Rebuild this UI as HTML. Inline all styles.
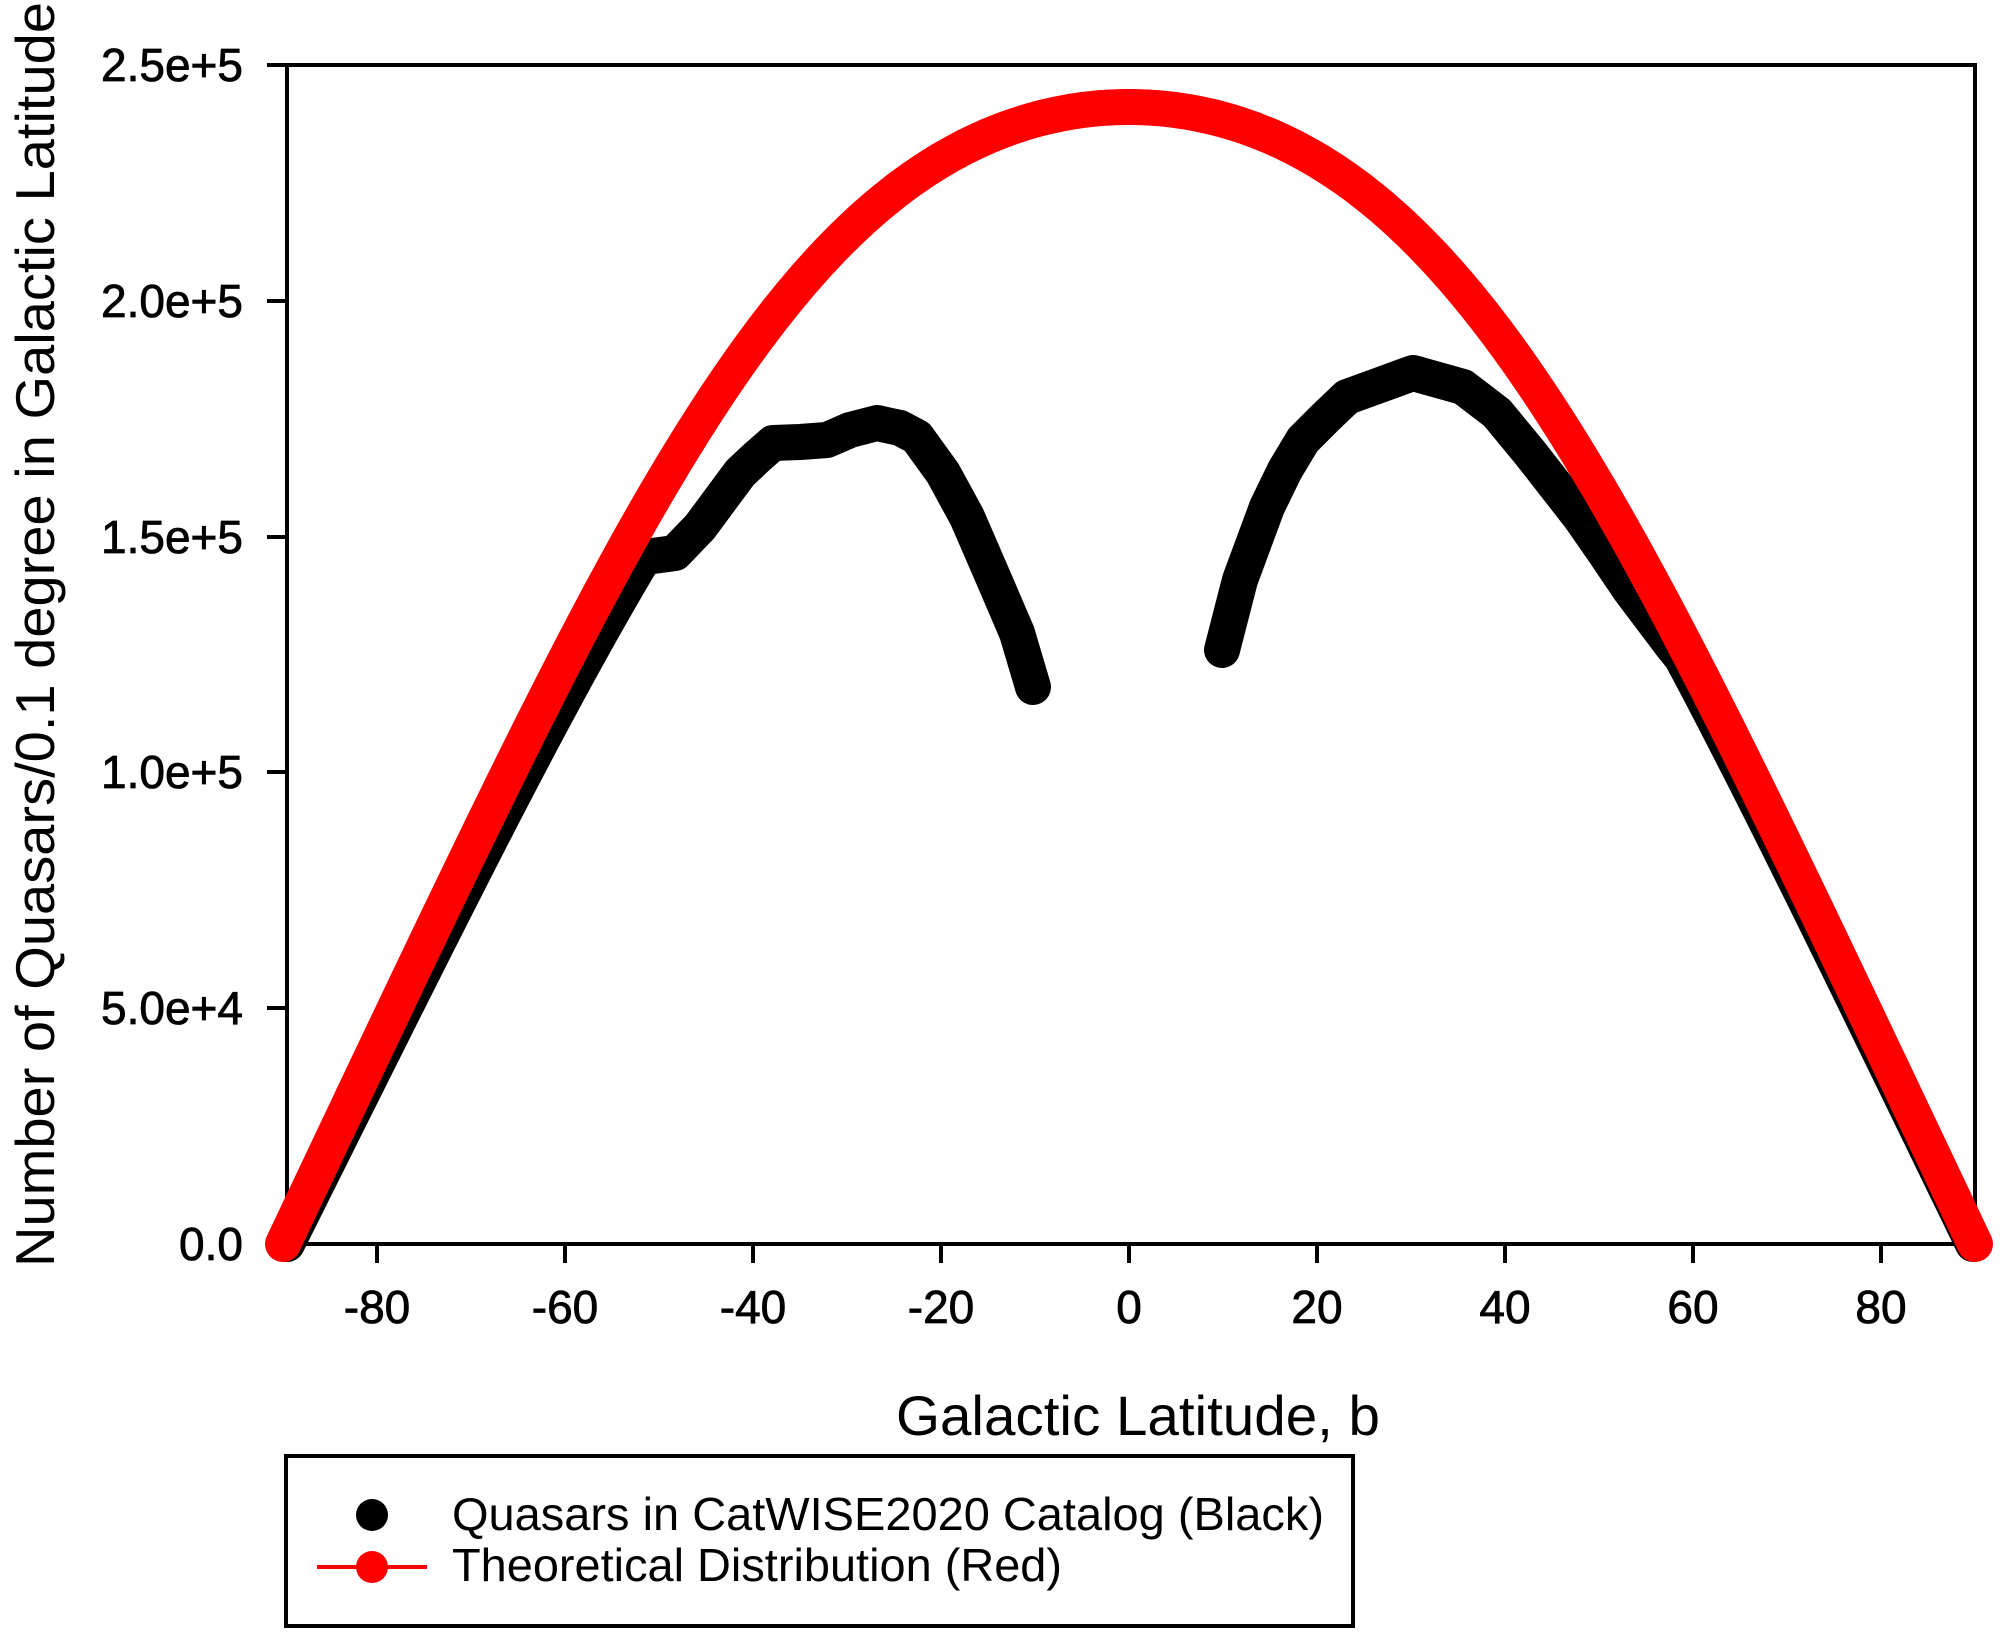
<!DOCTYPE html>
<html><head><meta charset="utf-8"><style>
html,body{margin:0;padding:0;background:#fff;}
svg{display:block;}
text{font-family:"Liberation Sans",Arial,sans-serif;fill:#000;}
</style></head><body>
<svg id="s" width="2000" height="1638" viewBox="0 0 2000 1638" xmlns="http://www.w3.org/2000/svg">
<rect x="0" y="0" width="2000" height="1638" fill="#fff"/>
<rect x="287" y="65" width="1688" height="1179" fill="none" stroke="#000" stroke-width="4"/>
<g stroke="#000" stroke-width="4">
<line x1="267" y1="65" x2="287" y2="65"/>
<line x1="267" y1="301" x2="287" y2="301"/>
<line x1="267" y1="537" x2="287" y2="537"/>
<line x1="267" y1="772" x2="287" y2="772"/>
<line x1="267" y1="1008" x2="287" y2="1008"/>
<line x1="267" y1="1244" x2="287" y2="1244"/>
<line x1="377" y1="1244" x2="377" y2="1263"/>
<line x1="565" y1="1244" x2="565" y2="1263"/>
<line x1="753" y1="1244" x2="753" y2="1263"/>
<line x1="941" y1="1244" x2="941" y2="1263"/>
<line x1="1129" y1="1244" x2="1129" y2="1263"/>
<line x1="1317" y1="1244" x2="1317" y2="1263"/>
<line x1="1505" y1="1244" x2="1505" y2="1263"/>
<line x1="1693" y1="1244" x2="1693" y2="1263"/>
<line x1="1881" y1="1244" x2="1881" y2="1263"/>
</g>
<g font-size="46" text-anchor="end" stroke="#000" stroke-width="0.8">
<text x="243" y="81">2.5e+5</text>
<text x="243" y="317">2.0e+5</text>
<text x="243" y="553">1.5e+5</text>
<text x="243" y="788">1.0e+5</text>
<text x="243" y="1024">5.0e+4</text>
<text x="243" y="1260">0.0</text>
</g>
<g font-size="46" text-anchor="middle" stroke="#000" stroke-width="0.8">
<text x="377" y="1323">-80</text>
<text x="565" y="1323">-60</text>
<text x="753" y="1323">-40</text>
<text x="941" y="1323">-20</text>
<text x="1129" y="1323">0</text>
<text x="1317" y="1323">20</text>
<text x="1505" y="1323">40</text>
<text x="1693" y="1323">60</text>
<text x="1881" y="1323">80</text>
</g>
<text x="1138" y="1435" font-size="56" text-anchor="middle" textLength="484" lengthAdjust="spacingAndGlyphs">Galactic Latitude, b</text>
<text transform="translate(54,1267) rotate(-90)" font-size="55" textLength="1265" lengthAdjust="spacingAndGlyphs">Number of Quasars/0.1 degree in Galactic Latitude</text>
<g id="curves" fill="none" stroke-linecap="round" stroke-linejoin="round"></g>
<rect x="286" y="1456" width="1067" height="170" fill="none" stroke="#000" stroke-width="4"/>
<circle cx="372" cy="1515" r="16" fill="#000"/>
<line x1="317" y1="1567" x2="427" y2="1567" stroke="#f00" stroke-width="4"/>
<circle cx="372" cy="1567" r="16" fill="#f00"/>
<text x="452" y="1530" font-size="46" textLength="872" lengthAdjust="spacingAndGlyphs">Quasars in CatWISE2020 Catalog (Black)</text>
<text x="452" y="1581" font-size="46" textLength="610" lengthAdjust="spacingAndGlyphs">Theoretical Distribution (Red)</text>
</svg>
<script>
(function(){
var X=function(b){return 1129+b*9.4;};
var Y=function(v){return 1244-v;};
var A=1137;
function red(b){var r=b*Math.PI/180;var c=Math.cos(r);if(c<0)c=0;var s=Math.sin(2*Math.abs(r));return A*c*(1+0.035*s*s);}
var g=document.getElementById('curves');
function path(pts,col,w){
 var p=document.createElementNS('http://www.w3.org/2000/svg','path');
 p.setAttribute('d','M'+pts.map(function(q){return q[0].toFixed(1)+','+q[1].toFixed(1);}).join('L'));
 p.setAttribute('stroke',col);p.setAttribute('stroke-width',w);
 g.appendChild(p);}
var L=[];
for(var b=-90;b<=-52;b+=1){L.push([X(b)+4,Y(red(b)*0.95)]);}
L=L.concat([[675,553],[700,527],[720,500],[740,473],[757,457],[773,443],[800,442],[827,440],[850,430],[877,423],[900,428],[917,437],[943,473],[967,517],[993,577],[1017,633],[1033,687]]);
path(L,'#000',36);
var R=[[1222,650],[1240,580],[1267,507],[1285,470],[1303,440],[1325,418],[1347,397],[1380,385],[1413,373],[1463,387],[1497,413],[1530,453],[1555,485],[1580,517],[1605,553],[1630,590],[1673,647]];
for(var b=59;b<=90;b+=1){R.push([X(b)-2,Y(red(b)*0.975)]);}
path(R,'#000',36);
var P=[];
for(var b=-90;b<=90;b+=0.5){P.push([X(b),Y(red(b))]);}
path(P,'#f00',36);
})();
</script>
</body></html>
